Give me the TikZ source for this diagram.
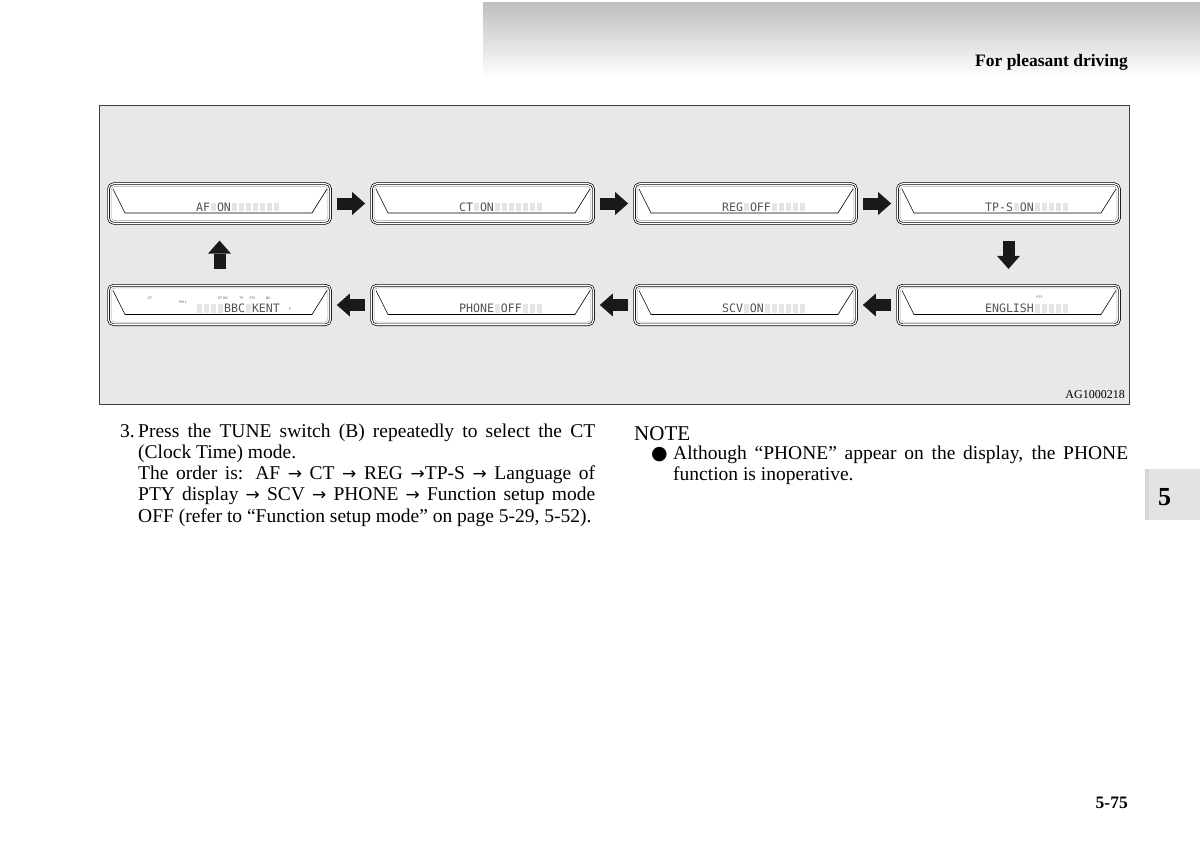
\documentclass[tikz,border=0pt]{standalone}
\usepackage{fontspec}
\setmainfont{Liberation Serif}
\newfontfamily\lcdfont{DejaVu Sans Mono}
\newfontfamily\dejavu{DejaVu Sans}
\usetikzlibrary{arrows.meta}
\definecolor{panel}{gray}{0.91}
\definecolor{lcdink}{gray}{0.33}
\definecolor{lcdoff}{gray}{0.90}
\newcommand{\seg}{\makebox[7pt]{\textcolor{lcdoff}{\rule{5.4pt}{8.6pt}}}}
\newcommand{\nextmode}{{\dejavu\fontsize{17}{20}\selectfont →}}

\begin{document}
\begin{tikzpicture}[x=1pt,y=-1pt,
  every node/.style={inner sep=0pt},
  lcd/.style={draw=black, line width=0.7pt, double=white, double distance=1.1pt,
    rounded corners=5pt, fill=white, minimum width=222pt, minimum height=39.5pt,
    path picture={
      \draw[line width=0.6pt, sharp corners]
        ([shift={(4.5pt,-5.25pt)}]path picture bounding box.north west)
        -- ([shift={(16.5pt,-29.25pt)}]path picture bounding box.north west)
        -- ([shift={(-18.5pt,-29.25pt)}]path picture bounding box.north east)
        -- ([shift={(-3.5pt,-5.25pt)}]path picture bounding box.north east);
      \draw[gray!70, line width=0.4pt, rounded corners=4pt]
        ([shift={(2.6pt,-2.6pt)}]path picture bounding box.north west)
        rectangle ([shift={(-2.6pt,2.6pt)}]path picture bounding box.south east);
    }},
  lcdtext/.style={font=\lcdfont\fontsize{11.6}{12}\selectfont, text=lcdink,
    text height=8.6pt, text depth=0pt},
  tinylbl/.style={font=\dejavu\fontsize{3.2}{4}\selectfont, text=lcdink},
  blockarrow/.style={draw=black!90, line width=12pt,
    -{Triangle[length=13pt, width=23pt, line width=0pt]}},
  bodytext/.style={font=\fontsize{19.5}{21.25}\selectfont, align=justify},
  boldtext/.style={font=\bfseries\fontsize{17.5}{20}\selectfont}]

\useasboundingbox (0,0) rectangle (1200,856);
\fill[white] (0,0) rectangle (1200,856);

% header band
\shade[top color=gray!50, bottom color=white] (483,3) rectangle (1200,78);
\node[boldtext, anchor=base east] (title) at (1128,66.5) {For pleasant driving};

% figure panel
\draw[draw=black!75, line width=0.9pt, fill=panel] (99,105) rectangle (1129,404);
\node[font=\fontsize{12}{14}\selectfont, anchor=base east] (figid) at (1125,398) {AG1000218};

% top row of displays
\node[lcd] (af) at (219.5,203.5) {};
\node[lcd] (ct) at (482.5,203.5) {};
\node[lcd] (reg) at (745.5,203.5) {};
\node[lcd] (tps) at (1008.5,203.5) {};
\node[lcdtext] (aftxt) at (238,207) {AF\seg ON\seg\seg\seg\seg\seg\seg\seg};
\node[lcdtext] (cttxt) at (501,207) {CT\seg ON\seg\seg\seg\seg\seg\seg\seg};
\node[lcdtext] (regtxt) at (764,207) {REG\seg OFF\seg\seg\seg\seg\seg};
\node[lcdtext] (tpstxt) at (1027,207) {TP-S\seg ON\seg\seg\seg\seg\seg};

% bottom row of displays
\node[lcd] (bbc) at (219.5,305) {};
\node[lcd] (phone) at (482.5,305) {};
\node[lcd] (scv) at (745.5,305) {};
\node[lcd] (eng) at (1008.5,305) {};
\node[lcdtext] (bbctxt) at (238,308.5) {\seg\seg\seg\seg BBC\seg KENT};
\node[lcdtext] (phonetxt) at (501,308.5) {PHONE\seg OFF\seg\seg\seg};
\node[lcdtext] (scvtxt) at (764,308.5) {SCV\seg ON\seg\seg\seg\seg\seg\seg};
\node[lcdtext] (engtxt) at (1027,308.5) {ENGLISH\seg\seg\seg\seg\seg};

% indicator marks
\node[tinylbl] (ctflag) at (150,298) {CT};
\node[tinylbl] (pmflag) at (183,302) {PM 1};
\node[tinylbl] (stflag) at (223,298) {ST RG};
\node[tinylbl] (tpflag) at (241.5,298) {TP};
\node[tinylbl] (ptyflag) at (252.5,298) {PTY};
\node[tinylbl] (nsflag) at (268,298) {NS};
\node[tinylbl] (pflag) at (290,309.5) {P};
\node[tinylbl] (engpty) at (1039.5,297.5) {PTY};

% order of the modes
\draw[blockarrow, shorten <=6pt, shorten >=6pt] (af) -- (ct);
\draw[blockarrow, shorten <=6pt, shorten >=6pt] (ct) -- (reg);
\draw[blockarrow, shorten <=6pt, shorten >=6pt] (reg) -- (tps);
\draw[blockarrow, shorten <=17pt, shorten >=16pt] (tps) -- (eng);
\draw[blockarrow, shorten <=6pt, shorten >=6pt] (eng) -- (scv);
\draw[blockarrow, shorten <=6pt, shorten >=6pt] (scv) -- (phone);
\draw[blockarrow, shorten <=6pt, shorten >=6pt] (phone) -- (bbc);
\draw[blockarrow, shorten <=16pt, shorten >=17pt] (bbc) -- (af);

% text below the figure
\node[bodytext, anchor=base west] (stepno) at (120,437) {3.};
\node[bodytext, text width=457pt, anchor=north west] (step) at (138,422.1)
  {\strut Press the TUNE switch (B) repeatedly to select the CT\linebreak
   (Clock Time) mode.\newline
   The order is: AF \nextmode{} CT \nextmode{} REG \nextmode TP-S \nextmode{} Language of\linebreak
   PTY display \nextmode{} SCV \nextmode{} PHONE \nextmode{} Function setup mode\linebreak
   OFF (refer to ``Function setup mode'' on page 5-29, 5-52).};

\node[font=\fontsize{21}{24}\selectfont, anchor=base west] (note) at (634,440) {NOTE};
\node[font=\dejavu\fontsize{19}{21}\selectfont, anchor=base west] (bullet) at (651,459) {●};
\node[bodytext, text width=455pt, anchor=north west] (notetext) at (673,444.1)
  {\strut Although ``PHONE'' appear on the display, the PHONE\linebreak
   function is inoperative.};

% section tab and page number
\fill[gray!22] (1145,469) rectangle (1200,520);
\fill[gray!32] (1145,469) rectangle (1149,520);
\node[font=\bfseries\fontsize{26}{28}\selectfont, anchor=base] (tab) at (1164.5,505) {5};
\node[boldtext, anchor=base east] (pagenum) at (1128,808) {5-75};
\end{tikzpicture}
\end{document}
